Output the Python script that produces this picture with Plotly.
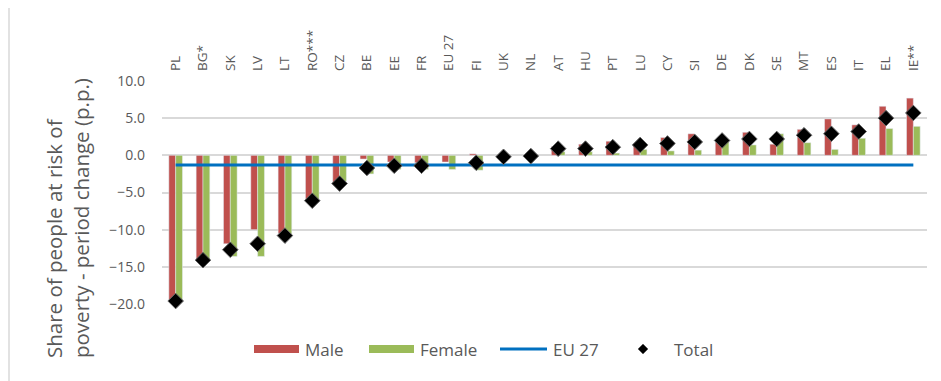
import plotly.graph_objects as go

countries = ["PL", "BG*", "SK", "LV", "LT", "RO***", "CZ", "BE", "EE", "FR", "EU 27", "FI", "UK", "NL",
             "AT", "HU", "PT", "LU", "CY", "SI", "DE", "DK", "SE", "MT", "ES", "IT", "EL", "IE**"]
male = [-19.6, -14.2, -11.9, -10.0, -10.5, -5.9, -3.9, -0.5, -0.9, -1.0, -0.9, 0.2, None, None,
        1.2, 1.5, 1.9, 1.5, 2.4, 2.9, 1.8, 3.1, 1.5, 3.5, 4.9, 4.1, 6.6, 7.7]
female = [-19.5, -14.1, -13.6, -13.6, -10.9, -6.2, -3.5, -2.5, -1.9, -1.9, -1.9, -2.0, None, None,
          0.5, 0.5, 0.3, 0.8, 0.6, 0.7, 1.9, 1.4, 2.9, 1.7, 0.8, 2.3, 3.6, 3.9]
total = [-19.6, -14.1, -12.7, -11.9, -10.8, -6.1, -3.8, -1.7, -1.4, -1.4, None, -1.0, -0.2, -0.1,
         0.9, 0.9, 1.1, 1.4, 1.6, 1.8, 2.0, 2.2, 2.2, 2.7, 2.9, 3.2, 5.0, 5.7]
eu27 = [-1.3] * len(countries)

legend_names = ["Male", "Female", "EU 27", "Total"]
y_title = "Share of people at risk of<br>poverty - period change (p.p.)"
MALE_C, FEMALE_C, EU_C = "#C0504D", "#9BBB59", "#0070C0"

grey = "#595959"
FONT = "Open Sans, Liberation Sans, sans-serif"
OFF = 8                       # page body margin
W, H = 941 - OFF, 381 - OFF
# plot area in page pixels: x 162..927, y 81..304
L, T = 162 - OFF, 81 - OFF
R, B = W - (927 - OFF), H - (304 - OFF)
PW, PH = W - L - R, H - T - B


def px(x):
    return (x - OFF - L) / PW


def py(y):
    return (H - B - (y - OFF)) / PH


fig = go.Figure()
fig.add_trace(go.Bar(x=countries, y=male, name=legend_names[0], marker_color=MALE_C))
fig.add_trace(go.Bar(x=countries, y=female, name=legend_names[1], marker_color=FEMALE_C))
fig.add_trace(go.Scatter(x=countries, y=eu27, name=legend_names[2], mode="lines",
                         line=dict(color=EU_C, width=3)))
fig.add_trace(go.Scatter(x=countries, y=total, name=legend_names[3], mode="markers",
                         marker=dict(symbol="diamond", size=12, color="black",
                                     line=dict(color="#666666", width=1)),
                         cliponaxis=False))

fig.update_layout(
    width=W, height=H,
    margin=dict(l=L, r=R, t=T, b=B, autoexpand=False),
    plot_bgcolor="white", paper_bgcolor="white",
    barmode="group", bargap=0.5, bargroupgap=0,
    font=dict(family=FONT, color=grey),
    showlegend=False,
    xaxis=dict(side="top", tickangle=-90, tickfont=dict(size=13.5, color=grey),
               showgrid=False, showline=False, ticks="", ticklabelstandoff=9,
               automargin=False, range=[-0.5, len(countries) - 0.5]),
    yaxis=dict(range=[-20, 10], dtick=5, tickformat=".1f",
               tickfont=dict(size=14, color=grey),
               gridcolor="#D9D9D9", gridwidth=1.5,
               zeroline=True, zerolinecolor="#D9D9D9", zerolinewidth=1.5,
               showline=False, ticks="", ticklabelstandoff=16, automargin=False),
)

# y-axis title (rotated, lines aligned at their start)
fig.add_annotation(xref="paper", yref="paper", x=px(67), y=py(218), text=y_title,
                   textangle=-90, align="left", showarrow=False,
                   xanchor="center", yanchor="middle",
                   font=dict(size=20.5, color=grey, family=FONT))

# chart frame (left edge)
fig.add_shape(type="line", xref="paper", yref="paper",
              x0=px(9), x1=px(9), y0=py(381), y1=py(0),
              line=dict(color="#D9D9D9", width=1.5))

# manual legend
ly = 349
lf = dict(size=17, color=grey, family=FONT)
for (x0, x1), col, tx, name in [((254, 299), MALE_C, 303, legend_names[0]),
                                ((369, 414), FEMALE_C, 418, legend_names[1])]:
    fig.add_shape(type="rect", xref="paper", yref="paper",
                  x0=px(x0), x1=px(x1), y0=py(ly + 4), y1=py(ly - 4),
                  fillcolor=col, line=dict(width=0))
    fig.add_annotation(xref="paper", yref="paper", x=px(tx), y=py(ly), text=name,
                       showarrow=False, xanchor="left", yanchor="middle", font=lf)
fig.add_shape(type="line", xref="paper", yref="paper",
              x0=px(500), x1=px(547), y0=py(ly), y1=py(ly),
              line=dict(color=EU_C, width=3))
fig.add_annotation(xref="paper", yref="paper", x=px(551), y=py(ly), text=legend_names[2],
                   showarrow=False, xanchor="left", yanchor="middle", font=lf)
cx, d = 643, 5
fig.add_shape(type="path", xref="paper", yref="paper",
              path=(f"M {px(cx)},{py(ly - d)} L {px(cx + d)},{py(ly)} "
                    f"L {px(cx)},{py(ly + d)} L {px(cx - d)},{py(ly)} Z"),
              fillcolor="black", line=dict(color="#666666", width=1))
fig.add_annotation(xref="paper", yref="paper", x=px(672), y=py(ly), text=legend_names[3],
                   showarrow=False, xanchor="left", yanchor="middle", font=lf)

fig.write_html("out.html")
